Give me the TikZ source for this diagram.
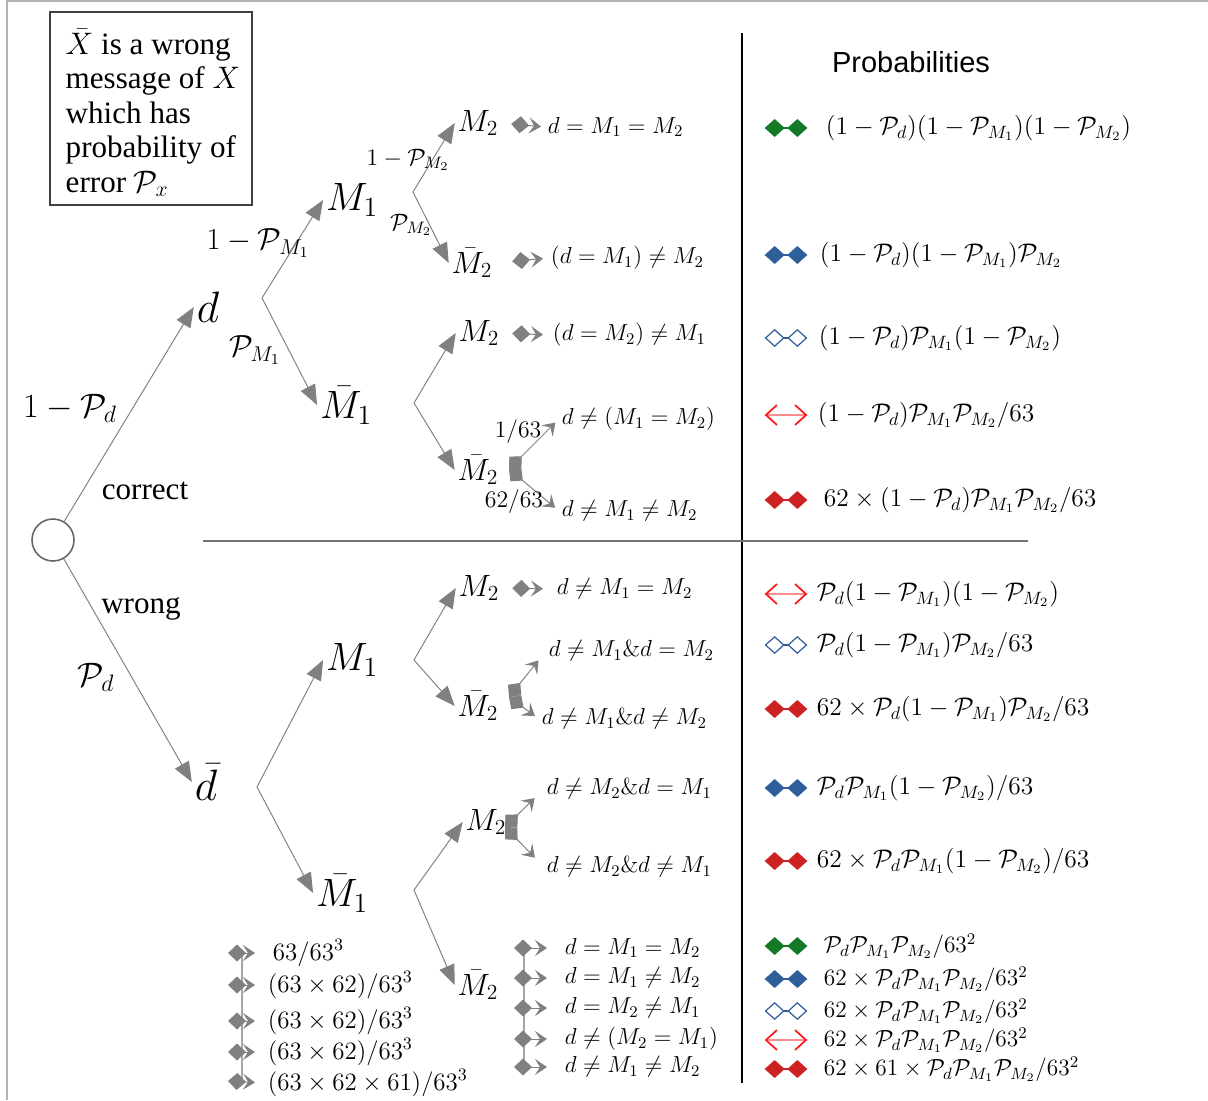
\documentclass[tikz,border=0pt]{standalone}
\usepackage{fix-cm}
\usepackage{amsmath,amssymb}
\usepackage[no-math]{fontspec}
\setmainfont{Liberation Serif}
\setsansfont{Liberation Sans}
\usetikzlibrary{arrows.meta,positioning,calc}
\definecolor{treegray}{HTML}{808080}
\definecolor{framegray}{HTML}{B4B4B4}
\definecolor{pairgreen}{HTML}{157A27}
\definecolor{pairblue}{HTML}{2F5F9A}
\definecolor{pairred}{HTML}{CC2222}
\definecolor{barbred}{HTML}{FF1A1A}
\definecolor{barbpink}{HTML}{FF8C8C}
\newcommand{\cP}{\mathcal{P}}
\tikzset{
  noteframe/.style={draw=black!75, line width=0.6pt, minimum width=4.04cm,
    minimum height=3.86cm, inner sep=0pt},
  notetext/.style={align=left, inner sep=0pt, font=\fontsize{17.7}{19.6}\selectfont},
  rootnode/.style={circle, draw=black!60, line width=0.9pt, minimum size=0.84cm, inner sep=0pt},
  dnode/.style={font=\fontsize{25}{29}\selectfont},
  m1node/.style={font=\fontsize{22.5}{26}\selectfont},
  m2node/.style={font=\fontsize{17.5}{21}\selectfont},
  biglab/.style={font=\fontsize{19.3}{23}\selectfont},
  midlab/.style={font=\fontsize{17.4}{21}\selectfont},
  smalllab/.style={font=\fontsize{13.5}{16}\selectfont},
  wordlab/.style={font=\fontsize{17.7}{20}\selectfont},
  leaftext/.style={anchor=west, font=\fontsize{13.2}{16}\selectfont},
  counttext/.style={anchor=west, font=\fontsize{14.2}{17}\selectfont},
  probtext/.style={anchor=west, font=\fontsize{14.5}{17}\selectfont},
  probsmall/.style={anchor=west, font=\fontsize{13.3}{16}\selectfont},
  headtext/.style={font=\sffamily\fontsize{16.5}{20}\selectfont},
  pairslot/.style={minimum width=0.84cm, minimum height=1pt, inner sep=0pt},
  treearr/.style={-{Triangle[length=0.4cm,width=0.32cm]}, draw=treegray, line width=0.55pt},
  leafarr/.style={{Diamond[length=0.36cm,width=0.34cm]}-{Stealth[length=0.24cm,width=0.32cm,inset=0.1cm]},
    draw=treegray, line width=0.55pt},
  busline/.style={draw=treegray!70, line width=0.8pt},
  greenpair/.style={{Diamond[length=0.4cm,width=0.36cm]}-{Diamond[length=0.4cm,width=0.36cm]},
    draw=pairgreen, line width=0.8pt},
  bluepair/.style={{Diamond[length=0.4cm,width=0.36cm]}-{Diamond[length=0.4cm,width=0.36cm]},
    draw=pairblue, line width=0.8pt},
  openpair/.style={{Diamond[open,length=0.4cm,width=0.36cm]}-{Diamond[open,length=0.4cm,width=0.36cm]},
    draw=pairblue, line width=0.7pt},
  barbpair/.style={{Straight Barb[color=barbred,length=0.22cm,width=0.4cm]}-{Straight Barb[color=barbred,length=0.22cm,width=0.4cm]},
    draw=barbpink, line width=1pt},
  redpair/.style={{Diamond[length=0.4cm,width=0.36cm]}-{Diamond[length=0.4cm,width=0.36cm]},
    draw=pairred, line width=0.8pt},
  divline/.style={draw=black, line width=1.2pt},
  midline/.style={draw=black!55, line width=0.6pt}
}
\begin{document}
\begin{tikzpicture}[x=0.02cm, y=-0.02cm, every node/.style={inner sep=1.5pt}]
  \useasboundingbox (0,0) rectangle (1208,1100);
  % frame edges
  \draw[framegray, line width=1.2pt] (7,1100) -- (7,1) -- (1208,1);

  \node[noteframe] (notebox) at (151,108.5) {};
  \node[notetext] (note) at (153,113) {$\bar{X}$ is a wrong\\message of $X$\\which has\\probability of\\error $\cP_x$};

  % dividers
  \coordinate (vtop) at (742,33);
  \coordinate (vbot) at (742,1083);
  \coordinate (hleft) at (203,541);
  \coordinate (hright) at (1028,541);
  \draw[divline] (vtop) -- (vbot);
  \draw[midline] (hleft) -- (hright);
  \node[headtext] (head) at (911,62) {Probabilities};

  % first split
  \node[rootnode] (root) at (53,540) {};
  \node[dnode] (d) at (208,307) {$d$};
  \node[dnode] (db) at (206,782) {$\bar{d}$};
  \draw[treearr] (root) -- (d.west);
  \draw[treearr] (root) -- (db.west);
  \node[biglab] (pd1) at (70,408) {$1-\cP_d$};
  \node[wordlab] (correct) at (145,491) {correct};
  \node[wordlab] (wrong) at (141,609) {wrong};
  \node[biglab] (pd2) at (96,677) {$\cP_d$};

  % second split
  \coordinate (bd) at (262,298);
  \coordinate (bdb) at (257,787);
  \node[m1node] (M1a) at (352,200) {$M_1$};
  \node[m1node] (Mb1a) at (346,405) {$\bar{M}_1$};
  \node[m1node] (M1b) at (352,660) {$M_1$};
  \node[m1node] (Mb1b) at (342,893) {$\bar{M}_1$};
  \draw[treearr] (bd) -- (M1a.west);
  \draw[treearr] (bd) -- (Mb1a.west);
  \draw[treearr] (bdb) -- (M1b.west);
  \draw[treearr] (bdb) -- (Mb1b.west);
  \node[midlab] (pm1a) at (258,243) {$1-\cP_{M_1}$};
  \node[midlab] (pm1b) at (255,350) {$\cP_{M_1}$};

  % third split
  \coordinate (bm1a) at (413,192);
  \coordinate (bmb1a) at (414,403);
  \coordinate (bm1b) at (414,660);
  \coordinate (bmb1b) at (414,890);
  \node[m2node] (M2aa) at (478,123) {$M_2$};
  \node[m2node] (Mb2aa) at (472,263) {$\bar{M}_2$};
  \node[m2node] (M2ab) at (479,333) {$M_2$};
  \node[m2node] (Mb2ab) at (478,470) {$\bar{M}_2$};
  \node[m2node] (M2ba) at (479,588) {$M_2$};
  \node[m2node] (Mb2ba) at (478,706) {$\bar{M}_2$};
  \node[m2node] (M2bb) at (486,822) {$M_2$};
  \node[m2node] (Mb2bb) at (478,985) {$\bar{M}_2$};
  \draw[treearr] (bm1a) -- (M2aa.west);
  \draw[treearr] (bm1a) -- (Mb2aa.west);
  \draw[treearr] (bmb1a) -- (M2ab.west);
  \draw[treearr] (bmb1a) -- (Mb2ab.west);
  \draw[treearr] (bm1b) -- (M2ba.west);
  \draw[treearr] (bm1b) -- (Mb2ba.west);
  \draw[treearr] (bmb1b) -- (M2bb.west);
  \draw[treearr] (bmb1b) -- (Mb2bb.west);
  \node[smalllab] (pm2a) at (408,160) {$1-\cP_{M_2}$};
  \node[smalllab] (pm2b) at (411,225) {$\cP_{M_2}$};

  % leaves, correct part
  \node[leaftext] (lfA) at (545,127) {$d=M_1=M_2$};
  \node[leaftext] (lfB) at (548,258) {$(d=M_1)\neq M_2$};
  \node[leaftext] (lfC) at (550,335) {$(d=M_2)\neq M_1$};
  \node[leaftext] (lfD) at (559,419) {$d\neq(M_1=M_2)$};
  \node[leaftext] (lfE) at (559,511) {$d\neq M_1\neq M_2$};
  \draw[leafarr, shorten <=0.2cm, shorten >=0.08cm] (M2aa.east) -- (lfA.west);
  \draw[leafarr, shorten <=0.34cm, shorten >=0.1cm] (Mb2aa.east) -- (lfB.west);
  \draw[leafarr, shorten <=0.2cm, shorten >=0.14cm] (M2ab.east) -- (lfC.west);
  \coordinate (sp1) at (509,469);
  \draw[leafarr, shorten >=0.1cm] (sp1) -- (lfD.west);
  \draw[leafarr, shorten >=0.1cm] (sp1) -- (lfE.west);
  \node[smalllab] (q1) at (518,432) {$1/63$};
  \node[smalllab] (q62) at (514,502) {$62/63$};

  % leaves, wrong part
  \node[leaftext] (lfF) at (554,589) {$d\neq M_1=M_2$};
  \node[leaftext] (lfG) at (546,651) {$d\neq M_1\&d=M_2$};
  \node[leaftext] (lfH) at (539,719) {$d\neq M_1\&d\neq M_2$};
  \node[leaftext] (lfI) at (544,789) {$d\neq M_2\&d=M_1$};
  \node[leaftext] (lfJ) at (544,867) {$d\neq M_2\&d\neq M_1$};
  \draw[leafarr, shorten <=0.2cm, shorten >=0.22cm] (M2ba.east) -- (lfF.west);
  \coordinate (sp2) at (509,697);
  \draw[leafarr, shorten >=0.24cm] (sp2) -- (lfG.west);
  \draw[leafarr, shorten >=0.1cm] (sp2) -- (lfH.west);
  \coordinate (sp3) at (505,827);
  \draw[leafarr, shorten >=0.26cm] (sp3) -- (lfI.west);
  \draw[leafarr, shorten >=0.26cm] (sp3) -- (lfJ.west);

  % last branch list
  \coordinate (rbt) at (524,948);
  \coordinate (rbb) at (524,1068);
  \draw[busline] (rbt) -- (rbb);
  \coordinate (rb1) at (514,948);
  \coordinate (rb2) at (514,978);
  \coordinate (rb3) at (514,1008);
  \coordinate (rb4) at (514,1039);
  \coordinate (rb5) at (514,1067);
  \node[leaftext] (lr1) at (562,948) {$d=M_1=M_2$};
  \node[leaftext] (lr2) at (562,978) {$d=M_1\neq M_2$};
  \node[leaftext] (lr3) at (562,1008) {$d=M_2\neq M_1$};
  \node[leaftext] (lr4) at (562,1039) {$d\neq(M_2=M_1)$};
  \node[leaftext] (lr5) at (562,1067) {$d\neq M_1\neq M_2$};
  \draw[leafarr, shorten >=0.3cm] (rb1) -- (lr1.west);
  \draw[leafarr, shorten >=0.3cm] (rb2) -- (lr2.west);
  \draw[leafarr, shorten >=0.3cm] (rb3) -- (lr3.west);
  \draw[leafarr, shorten >=0.3cm] (rb4) -- (lr4.west);
  \draw[leafarr, shorten >=0.3cm] (rb5) -- (lr5.west);

  % counts list
  \coordinate (lbt) at (242,953);
  \coordinate (lbb) at (242,1081);
  \draw[busline] (lbt) -- (lbb);
  \coordinate (lb1) at (228,953);
  \coordinate (lb2) at (228,985);
  \coordinate (lb3) at (228,1021);
  \coordinate (lb4) at (228,1052);
  \coordinate (lb5) at (228,1081);
  \node[counttext] (ll1) at (270,953) {$63/63^3$};
  \node[counttext] (ll2) at (265,985) {$(63\times62)/63^3$};
  \node[counttext] (ll3) at (265,1021) {$(63\times62)/63^3$};
  \node[counttext] (ll4) at (265,1052) {$(63\times62)/63^3$};
  \node[counttext] (ll5) at (265,1083) {$(63\times62\times61)/63^3$};
  \draw[leafarr, shorten >=0.3cm] (lb1) -- (ll1.west);
  \draw[leafarr, shorten >=0.2cm] (lb2) -- (ll2.west);
  \draw[leafarr, shorten >=0.2cm] (lb3) -- (ll3.west);
  \draw[leafarr, shorten >=0.2cm] (lb4) -- (ll4.west);
  \draw[leafarr, shorten >=0.2cm] (lb5) -- (ll5.west);

  % probabilities column
  \node[pairslot] (s1) at (786,128) {};
  \node[pairslot] (s2) at (786,255) {};
  \node[pairslot] (s3) at (786,338) {};
  \node[pairslot] (s4) at (786,415) {};
  \node[pairslot] (s5) at (786,500) {};
  \node[pairslot] (s6) at (786,594) {};
  \node[pairslot] (s7) at (786,645) {};
  \node[pairslot] (s8) at (786,709) {};
  \node[pairslot] (s9) at (786,788) {};
  \node[pairslot] (s10) at (786,861) {};
  \node[pairslot] (s11) at (786,946) {};
  \node[pairslot] (s12) at (786,979) {};
  \node[pairslot] (s13) at (786,1011) {};
  \node[pairslot] (s14) at (786,1040) {};
  \node[pairslot] (s15) at (786,1069) {};
  \draw[greenpair] (s1.west) -- (s1.east);
  \draw[bluepair] (s2.west) -- (s2.east);
  \draw[openpair] (s3.west) -- (s3.east);
  \draw[barbpair] (s4.west) -- (s4.east);
  \draw[redpair] (s5.west) -- (s5.east);
  \draw[barbpair] (s6.west) -- (s6.east);
  \draw[openpair] (s7.west) -- (s7.east);
  \draw[redpair] (s8.west) -- (s8.east);
  \draw[bluepair] (s9.west) -- (s9.east);
  \draw[redpair] (s10.west) -- (s10.east);
  \draw[greenpair] (s11.west) -- (s11.east);
  \draw[bluepair] (s12.west) -- (s12.east);
  \draw[openpair] (s13.west) -- (s13.east);
  \draw[barbpair] (s14.west) -- (s14.east);
  \draw[redpair] (s15.west) -- (s15.east);
  \node[probtext] (p1) at (823,128) {$(1-\cP_d)(1-\cP_{M_1})(1-\cP_{M_2})$};
  \node[probtext] (p2) at (817,255) {$(1-\cP_d)(1-\cP_{M_1})\cP_{M_2}$};
  \node[probtext] (p3) at (816,338) {$(1-\cP_d)\cP_{M_1}(1-\cP_{M_2})$};
  \node[probtext] (p4) at (815,415) {$(1-\cP_d)\cP_{M_1}\cP_{M_2}/63$};
  \node[probtext] (p5) at (821,500) {$62\times(1-\cP_d)\cP_{M_1}\cP_{M_2}/63$};
  \node[probtext] (p6) at (814,594) {$\cP_d(1-\cP_{M_1})(1-\cP_{M_2})$};
  \node[probtext] (p7) at (814,645) {$\cP_d(1-\cP_{M_1})\cP_{M_2}/63$};
  \node[probtext] (p8) at (814,709) {$62\times\cP_d(1-\cP_{M_1})\cP_{M_2}/63$};
  \node[probtext] (p9) at (814,788) {$\cP_d\cP_{M_1}(1-\cP_{M_2})/63$};
  \node[probtext] (p10) at (814,861) {$62\times\cP_d\cP_{M_1}(1-\cP_{M_2})/63$};
  \node[probsmall] (p11) at (821,946) {$\cP_d\cP_{M_1}\cP_{M_2}/63^2$};
  \node[probsmall] (p12) at (821,979) {$62\times\cP_d\cP_{M_1}\cP_{M_2}/63^2$};
  \node[probsmall] (p13) at (821,1011) {$62\times\cP_d\cP_{M_1}\cP_{M_2}/63^2$};
  \node[probsmall] (p14) at (821,1040) {$62\times\cP_d\cP_{M_1}\cP_{M_2}/63^2$};
  \node[probsmall] (p15) at (821,1069) {$62\times61\times\cP_d\cP_{M_1}\cP_{M_2}/63^2$};
\end{tikzpicture}
\end{document}
